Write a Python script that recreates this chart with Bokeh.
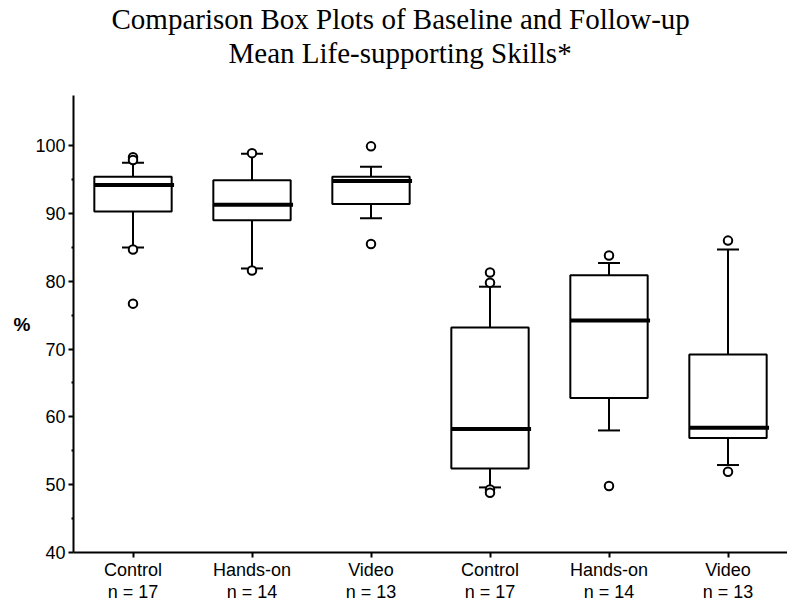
from bokeh.plotting import figure
from bokeh.models import FixedTicker, Range1d, Title
from bokeh.embed import file_html
from bokeh.resources import INLINE

# ---- data ----
categories = ["Control", "Hands-on", "Video", "Control", "Hands-on", "Video"]
n_sizes = [17, 14, 13, 17, 14, 13]
q1 = [90.3, 89.0, 91.4, 52.4, 62.8, 56.9]
median = [94.2, 91.3, 94.8, 58.2, 74.2, 58.4]
q3 = [95.4, 94.9, 95.4, 73.2, 80.9, 69.2]
whisker_low = [85.0, 81.9, 89.3, 49.6, 58.0, 52.9]
whisker_high = [97.5, 98.8, 96.9, 79.2, 82.7, 84.7]
outlier_group = [0, 0, 0, 0, 1, 1, 2, 2, 3, 3, 3, 3, 4, 4, 5, 5]
outlier_value = [98.3, 97.9, 84.7, 76.7, 98.9, 81.6, 99.9, 85.5,
                 81.3, 79.8, 49.3, 48.8, 83.8, 49.8, 86.0, 51.9]
y_ticks = [40, 50, 60, 70, 80, 90, 100]
y_minor = [45, 55, 65, 75, 85, 95]
title_lines = ["Comparison Box Plots of Baseline and Follow-up",
               "Mean Life-supporting Skills*"]
y_label = "%"

xs = list(range(len(categories)))
box_w = 0.65

p = figure(width=787, height=604, output_backend="svg", toolbar_location=None,
           x_range=Range1d(-0.5, 5.5), y_range=Range1d(40, 107.4),
           min_border_left=73, min_border_right=0, min_border_top=0,
           min_border_bottom=51, title=None)
p.outline_line_color = None
p.grid.visible = False

# whiskers
p.segment(x0=xs, y0=q3, x1=xs, y1=whisker_high, line_color="black", line_width=2)
p.segment(x0=xs, y0=q1, x1=xs, y1=whisker_low, line_color="black", line_width=2)
# boxes
p.vbar(x=xs, width=box_w, bottom=q1, top=q3, fill_color="white",
       line_color="black", line_width=2)
# medians
p.segment(x0=[x - box_w / 2 for x in xs], y0=median,
          x1=[x + box_w / 2 + 0.02 for x in xs], y1=median,
          line_color="black", line_width=4)
# caps
p.scatter(x=xs, y=whisker_high, marker="dash", size=22, line_color="black", line_width=2)
p.scatter(x=xs, y=whisker_low, marker="dash", size=22, line_color="black", line_width=2)
# outliers
p.scatter(x=outlier_group, y=outlier_value, marker="circle", size=8.5,
          fill_color="white", line_color="black", line_width=2)

# axes
ax = p.xaxis[0]
ax.ticker = FixedTicker(ticks=xs)
ax.major_label_overrides = {i: f"{c}\nn = {n}" for i, c, n in zip(xs, categories, n_sizes)}
ax.major_label_text_font = "Liberation Sans"
ax.major_label_text_font_size = "18px"
ax.major_label_text_line_height = 1.1
ax.major_label_text_color = "black"
ax.major_label_standoff = 2
ax.major_tick_out = 5
ax.major_tick_in = 0
ax.minor_tick_line_color = None
ax.axis_line_width = 2
ax.major_tick_line_width = 2

ay = p.yaxis[0]
ay.ticker = FixedTicker(ticks=y_ticks, minor_ticks=y_minor)
ay.major_label_text_font = "Liberation Sans"
ay.major_label_text_font_size = "18px"
ay.major_label_text_color = "black"
ay.major_label_standoff = 3
ay.major_tick_out = 5
ay.major_tick_in = 0
ay.minor_tick_out = 2
ay.minor_tick_in = 0
ay.minor_tick_line_width = 2
ay.axis_line_width = 2
ay.major_tick_line_width = 2
ay.axis_label = y_label
ay.axis_label_orientation = "horizontal"
ay.axis_label_standoff = 2
ay.axis_label_text_font = "Liberation Sans"
ay.axis_label_text_font_size = "19px"
ay.axis_label_text_font_style = "bold"
ay.axis_label_text_color = "black"

# blank spacer title between the frame and the two title lines
p.add_layout(Title(text=" ", text_font_size="10px", standoff=14,
                   text_color="white"), "above")
# titles: line 2 (closer to frame), then line 1
p.add_layout(Title(text=title_lines[1], align="left", offset=155, standoff=0,
                   text_font="Liberation Serif", text_font_size="29px",
                   text_font_style="normal", text_color="black"), "above")
p.add_layout(Title(text=title_lines[0], align="left", offset=38, standoff=0,
                   text_font="Liberation Serif", text_font_size="29px",
                   text_font_style="normal", text_color="black"), "above")

open("out.html", "w").write(file_html(p, INLINE))
